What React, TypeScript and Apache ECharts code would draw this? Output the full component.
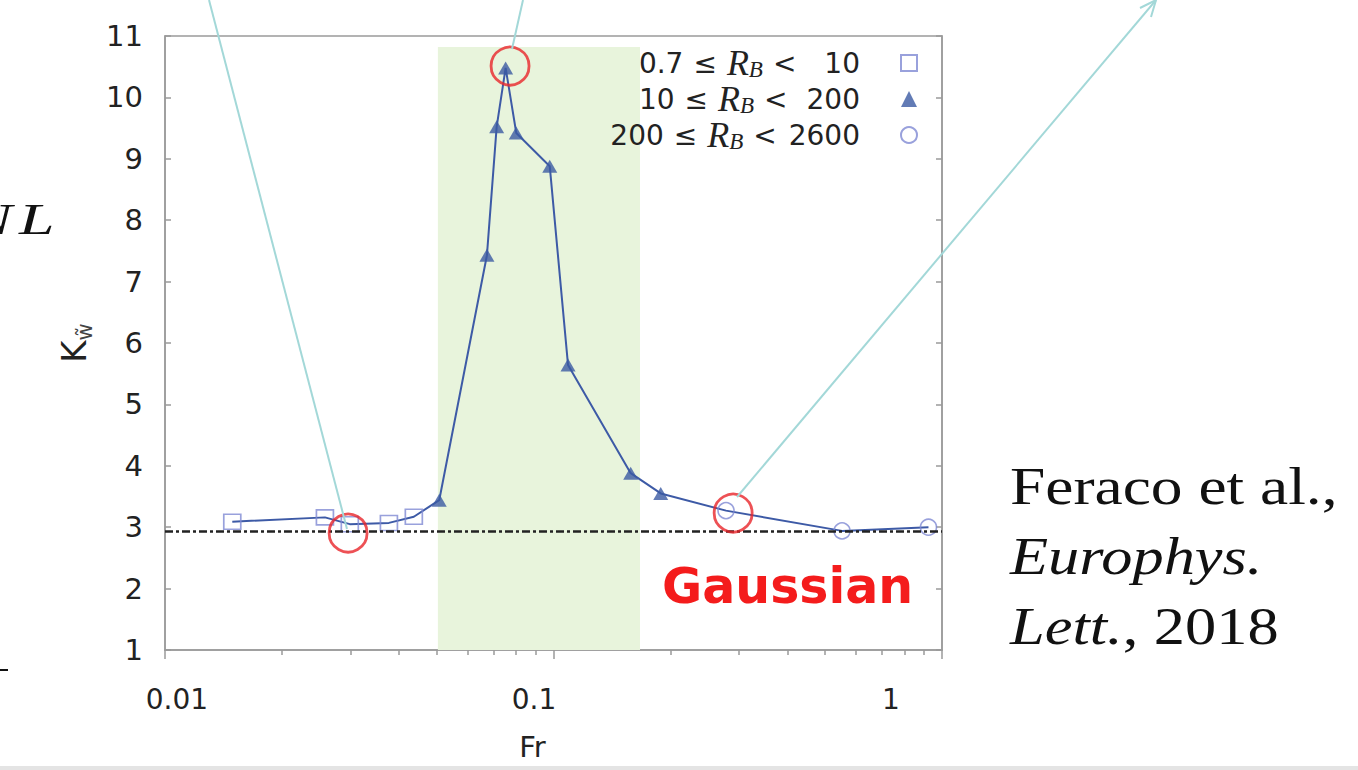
import React, { useEffect, useRef } from 'react';
import * as echarts from 'echarts';

// ---- data (Fr, kurtosis K) ----
const squareFr = [0.0149, 0.0258, 0.0299, 0.0377, 0.0437];
const squareK = [3.09, 3.16, 3.05, 3.07, 3.17];
const triFr = [0.0508, 0.0674, 0.0714, 0.0753, 0.0802, 0.0978, 0.109, 0.158, 0.1888];
const triK = [3.44, 7.43, 9.52, 10.48, 9.42, 8.88, 5.64, 3.88, 3.55];
const circFr = [0.278, 0.553, 0.923];
const circK = [3.27, 2.94, 3.0];
const highlightFr = [0.0296, 0.0773, 0.29];
const highlightK = [2.905, 10.51, 3.23];
const gaussianK = 2.94;
const bandFr = [0.0504, 0.167];
const bandK = [1, 10.82];
const seriesNames = ['0.7 ≤ R_B < 10', '10 ≤ R_B < 200', '200 ≤ R_B < 2600'];
const rbLow = ['0.7', '10', '200'];
const rbHigh = ['10', '200', '2600'];
const xLabelValues = [0.01, 0.1, 1];
const xMinorValues = [0.02, 0.03, 0.04, 0.05, 0.06, 0.07, 0.08, 0.09, 0.2, 0.3, 0.4, 0.5, 0.6, 0.7, 0.8, 0.9];
const yMin = 1;
const yMax = 11;

const SANS = '"DejaVu Sans", sans-serif';
const SERIF = '"Liberation Serif", serif';
const AXIS_GRAY = '#9a9a9a';

const zip = (xs: number[], ys: number[]) => xs.map((x, i) => [x, ys[i]]);

export default function App() {
  const ref = useRef<HTMLDivElement>(null);
  useEffect(() => {
    if (!ref.current) return;
    const chart = echarts.init(ref.current, null, { renderer: 'svg' });
    const allPts = [...zip(squareFr, squareK), ...zip(triFr, triK), ...zip(circFr, circK)];
    const fmtX = (v: number) => (v >= 1 ? String(Math.round(v)) : String(+v.toPrecision(2)));
    const option: any = {
      animation: false,
      backgroundColor: '#ffffff',
      grid: {
        left: 165, right: 416, top: 36, bottom: 120,
        show: true, borderColor: AXIS_GRAY, borderWidth: 1.5, backgroundColor: 'transparent',
      },
      legend: {
        orient: 'vertical', right: 440, top: 45, align: 'right', padding: 0,
        itemWidth: 16, itemHeight: 16, itemGap: 0,
        data: seriesNames,
        formatter: (name: string) => {
          const i = seriesNames.indexOf(name);
          return `{n|${rbLow[i]}}{op|≤}{r|R}{b|B}{op|<}{h${i}|${rbHigh[i]}}`;
        },
        textStyle: {
          rich: {
            n: { fontFamily: SANS, fontSize: 28, color: '#222', lineHeight: 36 },
            op: { fontFamily: SANS, fontSize: 28, color: '#222', lineHeight: 36, padding: [0, 10, 0, 10] },
            r: { fontFamily: SERIF, fontStyle: 'italic', fontSize: 36, color: '#222', lineHeight: 36 },
            b: { fontFamily: SERIF, fontStyle: 'italic', fontSize: 23, color: '#222', verticalAlign: 'bottom' },
            h0: { fontFamily: SANS, fontSize: 28, color: '#222', lineHeight: 36, padding: [0, 36, 0, 18] },
            h1: { fontFamily: SANS, fontSize: 28, color: '#222', lineHeight: 36, padding: [0, 36, 0, 9] },
            h2: { fontFamily: SANS, fontSize: 28, color: '#222', lineHeight: 36, padding: [0, 36, 0, 2] },
          },
        },
      },
      xAxis: [
        {
          type: 'log', logBase: 10, min: 0.01, max: 1, position: 'bottom',
          axisLine: { show: true, lineStyle: { color: AXIS_GRAY, width: 1.5 } },
          axisTick: { show: true, customValues: xLabelValues, length: 9, lineStyle: { color: AXIS_GRAY, width: 1.5 } },
          axisLabel: { show: false },
          splitLine: { show: false },
        },
        {
          type: 'log', logBase: 10, min: 0.01, max: 1, position: 'bottom',
          axisLine: { show: false },
          axisTick: { show: true, customValues: xMinorValues, length: 5, lineStyle: { color: AXIS_GRAY, width: 1.5 } },
          axisLabel: { show: false },
          splitLine: { show: false },
        },
        {
          type: 'log', logBase: 10, min: 0.00926, max: 1.39, position: 'bottom',
          axisLine: { show: false },
          axisTick: { show: false },
          axisLabel: {
            show: true, customValues: xLabelValues, formatter: fmtX, margin: 35,
            fontFamily: SANS, fontSize: 28, color: '#222',
          },
          splitLine: { show: false },
          name: 'Fr', nameLocation: 'middle', nameGap: 82,
          nameTextStyle: { fontFamily: SANS, fontSize: 29, color: '#222', padding: [0, 42, 0, 0] },
        },
      ],
      yAxis: [
        {
          type: 'value', min: yMin, max: yMax, interval: 1, position: 'left',
          axisLine: { show: true, lineStyle: { color: AXIS_GRAY, width: 1.5 } },
          axisTick: { show: true, inside: true, length: 6, lineStyle: { color: AXIS_GRAY, width: 1.5 } },
          axisLabel: { fontFamily: SANS, fontSize: 29, color: '#222', margin: 22 },
          splitLine: { show: false },
          name: '{k|K}{w|w\u0303}', nameLocation: 'middle', nameGap: 66, nameRotate: 90,
          nameTextStyle: {
            rich: {
              k: { fontFamily: SANS, fontSize: 34, color: '#222', lineHeight: 42 },
              w: { fontFamily: SANS, fontSize: 21, color: '#444', verticalAlign: 'bottom' },
            },
          },
        },
        {
          type: 'value', min: yMin, max: yMax, interval: 1, position: 'right',
          axisLine: { show: true, lineStyle: { color: AXIS_GRAY, width: 1.5 } },
          axisTick: { show: true, inside: true, length: 6, lineStyle: { color: AXIS_GRAY, width: 1.5 } },
          axisLabel: { show: false },
          splitLine: { show: false },
        },
      ],
      series: [
        {
          name: 'curve', type: 'line', xAxisIndex: 0, yAxisIndex: 0,
          data: allPts, symbol: 'none', z: 3,
          lineStyle: { color: '#3d5aa6', width: 2 },
          markArea: {
            silent: true,
            itemStyle: { color: '#e8f4dc' },
            data: [[{ xAxis: bandFr[0], yAxis: bandK[0] }, { xAxis: bandFr[1], yAxis: bandK[1] }]],
          },
          markLine: {
            silent: true, symbol: ['none', 'none'],
            label: { show: false },
            lineStyle: { color: '#222', width: 2.5, type: [8, 3, 3, 3] },
            data: [{ yAxis: gaussianK }],
          },
        },
        {
          name: seriesNames[0], type: 'scatter', xAxisIndex: 0, yAxisIndex: 0,
          data: zip(squareFr, squareK), symbol: 'rect', symbolSize: [17, 15], z: 4,
          itemStyle: { color: 'rgba(0,0,0,0)', borderColor: '#7f89d3', borderWidth: 1.6 },
        },
        {
          name: seriesNames[1], type: 'scatter', xAxisIndex: 0, yAxisIndex: 0,
          data: zip(triFr, triK), symbol: 'triangle', symbolSize: [15, 13], z: 4,
          itemStyle: { color: '#3b5aa2' },
        },
        {
          name: seriesNames[2], type: 'scatter', xAxisIndex: 0, yAxisIndex: 0,
          data: zip(circFr, circK), symbol: 'circle', symbolSize: 16, z: 4,
          itemStyle: { color: 'rgba(0,0,0,0)', borderColor: '#7f89d3', borderWidth: 1.6 },
        },
        {
          name: 'highlight', type: 'scatter', xAxisIndex: 0, yAxisIndex: 0,
          data: zip(highlightFr, highlightK), symbol: 'circle', symbolSize: 38, z: 5, silent: true,
          itemStyle: { color: 'rgba(0,0,0,0)', borderColor: '#e8252b', borderWidth: 2.8 },
        },
      ],
      graphic: [
        { type: 'rect', z: 1, shape: { x: 0, y: 766, width: 1358, height: 4 }, style: { fill: '#e4e4e4' } },
        { type: 'line', z: 100, shape: { x1: 209, y1: 0, x2: 347, y2: 529 }, style: { stroke: '#a3d8d8', lineWidth: 2 } },
        { type: 'line', z: 100, shape: { x1: 523, y1: 0, x2: 512, y2: 49 }, style: { stroke: '#a3d8d8', lineWidth: 2 } },
        { type: 'line', z: 100, shape: { x1: 737, y1: 497, x2: 1156, y2: 0 }, style: { stroke: '#a3d8d8', lineWidth: 2 } },
        { type: 'polyline', z: 100, shape: { points: [[1140, 8], [1156, 0], [1151, 17]] }, style: { stroke: '#a3d8d8', lineWidth: 2, fill: 'none' } },
        {
          type: 'text', z: 100, x: 662, y: 586,
          style: { text: 'Gaussian', fontFamily: SANS, fontWeight: 'bold', fontSize: 49, fill: '#f41c1c', verticalAlign: 'middle' },
        },
        {
          type: 'text', z: 100, x: 1010, y: 487, scaleX: 1.22,
          style: { text: 'Feraco et al.,', fontFamily: SERIF, fontSize: 52, fill: '#111', verticalAlign: 'middle' },
        },
        {
          type: 'text', z: 100, x: 1010, y: 556, scaleX: 1.2,
          style: { text: 'Europhys.', fontFamily: SERIF, fontStyle: 'italic', fontSize: 52, fill: '#111', verticalAlign: 'middle' },
        },
        {
          type: 'text', z: 100, x: 1010, y: 626, scaleX: 1.2,
          style: {
            text: '{i|Lett.}{n|, 2018}', verticalAlign: 'middle',
            rich: {
              i: { fontFamily: SERIF, fontStyle: 'italic', fontSize: 52, fill: '#111' },
              n: { fontFamily: SERIF, fontSize: 52, fill: '#111' },
            },
          },
        },
        {
          type: 'text', z: 100, x: 12, y: 219, scaleX: 1.45,
          style: { text: 'N', fontFamily: SERIF, fontStyle: 'italic', fontSize: 44, fill: '#111', verticalAlign: 'middle', align: 'right' },
        },
        {
          type: 'text', z: 100, x: 19, y: 219, scaleX: 1.45,
          style: { text: 'L', fontFamily: SERIF, fontStyle: 'italic', fontSize: 44, fill: '#111', verticalAlign: 'middle' },
        },
        { type: 'line', z: 100, shape: { x1: 0, y1: 670, x2: 8, y2: 670 }, style: { stroke: '#111', lineWidth: 2 } },
      ],
    };
    chart.setOption(option);
    return () => chart.dispose();
  }, []);
  return <div ref={ref} style={{ position: 'absolute', left: 0, top: 0, width: 1358, height: 770 }} />;
}
